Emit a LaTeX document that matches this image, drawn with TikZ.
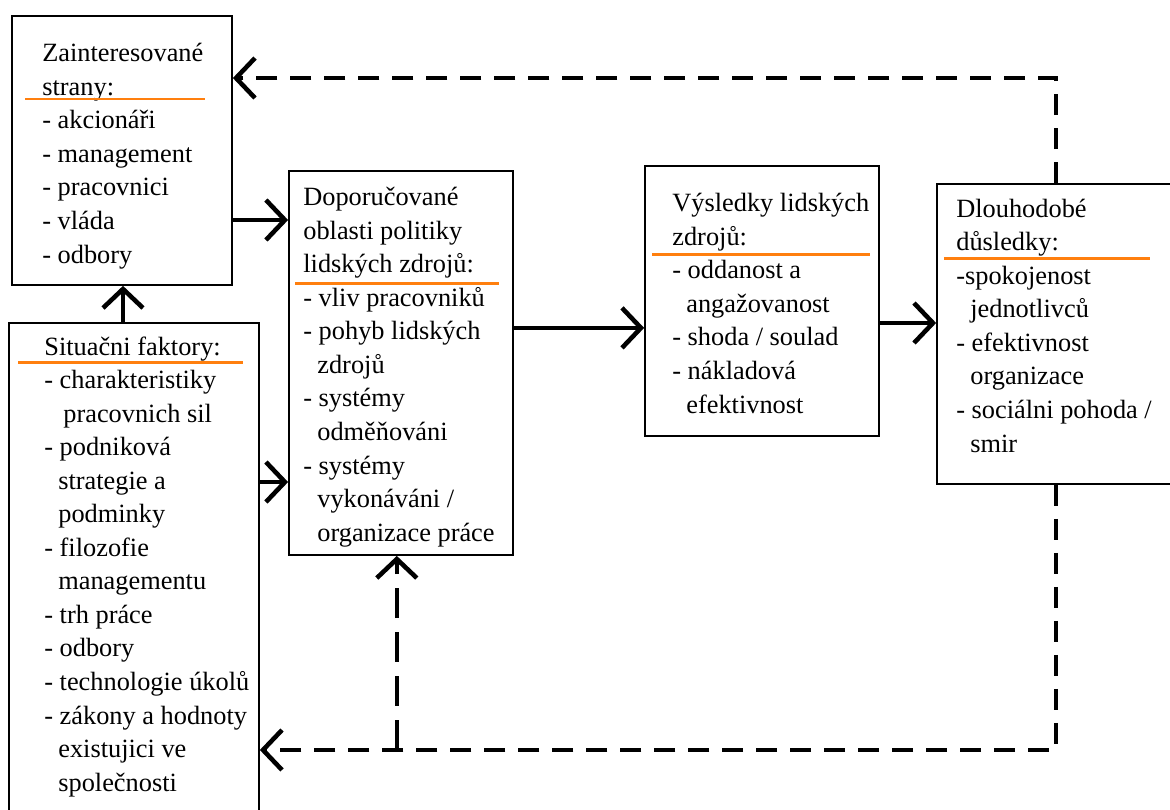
\documentclass[tikz,border=0pt]{standalone}
\usepackage{fontspec}
\setmainfont{Liberation Serif}
\usetikzlibrary{arrows.meta}
\definecolor{linka}{RGB}{255,127,14}
\newcommand{\odsaz}{\hspace*{0.28cm}}

\begin{document}
\begin{tikzpicture}[x=0.02cm,y=-0.02cm,
  box/.style={draw,line width=1pt,inner sep=0pt},
  txt/.style={anchor=base west,align=left,inner sep=0pt,
    font=\fontsize{15}{19.07}\selectfont},
  sipka/.style={-{Straight Barb[length=0.38cm,width=0.8cm]},line width=2.6pt},
  carka/.style={sipka,dash pattern=on 0.42cm off 0.26cm},
  podtrh/.style={linka,line width=1.7pt}]

\useasboundingbox (0,0) rectangle (1170,809);

% Zainteresované strany
\node[box,minimum width=4.4cm,minimum height=5.38cm] (zain) at (122,150.5) {};

\node[txt] (zaintxt) at (42,263)
{Zainteresované\\strany:\\- akcionáři\\- management\\- pracovnici\\- vláda\\- odbory};

\draw[podtrh] (25,99) -- (205,99);

% Situační faktory
\node[box,minimum width=5cm,minimum height=9.84cm] (situ) at (134,569) {};

\node[txt] (situtxt) at (44,791)
{Situačni faktory:\\- charakteristiky\\\hspace*{0.38cm}pracovnich sil\\- podniková\\\odsaz strategie a\\\odsaz podminky\\- filozofie\\\odsaz managementu\\- trh práce\\- odbory\\- technologie úkolů\\- zákony a hodnoty\\\odsaz existujici ve\\\odsaz společnosti};

\draw[podtrh] (18,362) -- (243,362);

% Doporučované oblasti
\node[box,minimum width=4.474cm,minimum height=7.686cm] (dopo) at (400.8,362.9) {};

\node[txt] (dopotxt) at (303,541)
{Doporučované\\oblasti politiky\\lidských zdrojů:\\- vliv pracovniků\\- pohyb lidských\\\odsaz zdrojů\\- systémy\\\odsaz odměňováni\\- systémy\\\odsaz vykonáváni /\\\odsaz organizace práce};

\draw[podtrh] (295,283) -- (499,283);

% Výsledky
\node[box,minimum width=4.68cm,minimum height=5.4cm] (vysl) at (762,301) {};

\node[txt] (vysltxt) at (672,413)
{Výsledky lidských\\zdrojů:\\- oddanost a\\\odsaz angažovanost\\- shoda / soulad\\- nákladová\\\odsaz efektivnost};

\draw[podtrh] (652,254) -- (870,254);

% Dlouhodobé důsledky
\node[box,minimum width=4.76cm,minimum height=6cm] (dlou) at (1056,334) {};

\node[txt] (dloutxt) at (956,452)
{Dlouhodobé\\důsledky:\\-spokojenost\\\odsaz jednotlivců\\- efektivnost\\\odsaz organizace\\- sociálni pohoda /\\\odsaz smir};

\draw[podtrh] (944,258) -- (1150,258);

% sipky
\coordinate (a1) at ([yshift=-1.39cm]zain.east);
\draw[sipka] (a1) -- (a1 -| dopo.west);

\coordinate (a2) at ([xshift=-0.22cm]situ.north);
\draw[sipka] (a2) -- (a2 |- zain.south);

\coordinate (a3) at ([yshift=1.74cm]situ.east);
\draw[sipka] (a3) -- (a3 -| dopo.west);

\coordinate (a4) at ([yshift=0.70cm]dopo.east);
\draw[sipka] (a4) -- (a4 -| vysl.west);

\coordinate (a5) at ([yshift=-0.44cm]vysl.east);
\draw[sipka] (a5) -- (a5 -| dlou.west);

% zpetne vazby
\coordinate (b1) at ([yshift=1.45cm]zain.east);
\draw[carka] (dlou.north) |- (b1);

\coordinate (b2) at ([yshift=-3.62cm]situ.east);
\draw[carka] (dlou.south) |- (b2);

\coordinate (b3) at ([xshift=-0.08cm]dopo.south);
\draw[carka,dash pattern=on 0.6cm off 0.28cm] (b3 |- b2) -- (b3);

\end{tikzpicture}
\end{document}
